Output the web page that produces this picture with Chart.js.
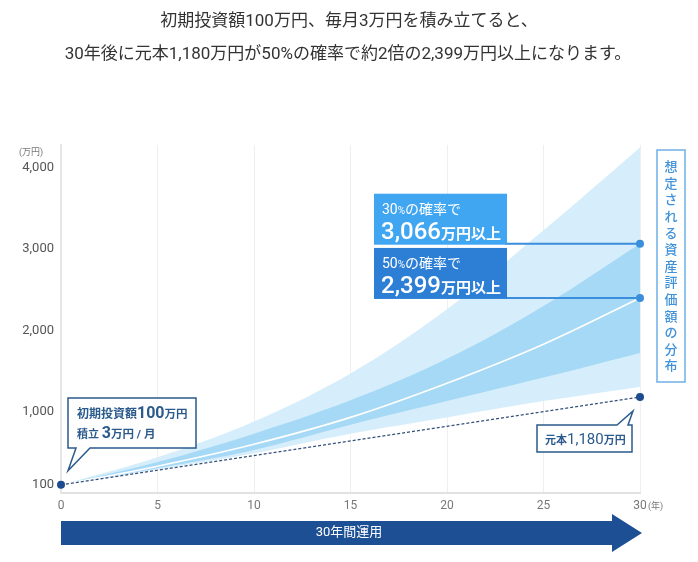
<!DOCTYPE html>
<html>
<head>
<meta charset="utf-8">
<script src="https://cdn.jsdelivr.net/npm/chart.js@4.4.1/dist/chart.umd.min.js"></script>
<style>
  html, body { margin: 0; padding: 0; background: #fff; }
  #wrap { width: 698px; height: 562px; position: relative; }
</style>
</head>
<body>
<div id="wrap"><canvas id="chart"></canvas></div>
<script>
// values (万円)
const years = [0, 5, 10, 15, 20, 25, 30];
const upper90 = [100, 440, 880, 1470, 2260, 3230, 4250];
const upper70 = [100, 380, 730, 1140, 1650, 2300, 3066];
const median = [100, 330, 600, 930, 1350, 1830, 2399];
const lower70 = [100, 305, 530, 840, 1130, 1420, 1723];
const lower90 = [100, 290, 490, 730, 930, 1130, 1305];
const principal = [100, 280, 460, 640, 820, 1000, 1180];
const yTicks = [100, 1000, 2000, 3000, 4000];

const titleLines = [
    '初期投資額100万円、毎月3万円を積み立てると、',
    '30年後に元本1,180万円が50%の確率で約2倍の2,399万円以上になります。'
];
const sideLabel = '想定される資産評価額の分布';

const FONT = "Roboto, 'Noto Sans CJK JP', sans-serif";
const NAVY = '#2b5a8c';

function pts(arr) {
    return arr.map((v, i) => ({ x: years[i], y: v }));
}

function endRadius(r) {
    return years.map((_, i) => (i === years.length - 1 ? r : 0));
}

// draw a row of text pieces with different sizes
function drawRuns(ctx, runs, x, baseline, color) {
    ctx.fillStyle = color;
    ctx.textAlign = 'left';
    ctx.textBaseline = 'alphabetic';
    let cx = x;
    runs.forEach(([t, size, weight]) => {
        ctx.font = `${weight} ${size}px ${FONT}`;
        ctx.fillText(t, cx, baseline);
        cx += ctx.measureText(t).width;
    });
    return cx;
}

const annotations = {
    id: 'annotations',
    afterDatasetsDraw(chart) {
        const { ctx, scales: { x, y } } = chart;
        const xEnd = x.getPixelForValue(30);

        // probability boxes + connector lines
        const boxes = [
            { value: 3066, color: '#41a6f1', pct: '30', amount: '3,066' },
            { value: 2399, color: '#2d7fd6', pct: '50', amount: '2,399' }
        ];
        boxes.forEach(b => {
            const ly = y.getPixelForValue(b.value);
            const bx = 374, bw = 133, bh = 50, by = ly - bh;
            ctx.save();
            ctx.strokeStyle = '#3a8edb';
            ctx.lineWidth = 2;
            ctx.beginPath();
            ctx.moveTo(bx + bw - 2, ly);
            ctx.lineTo(xEnd - 3, ly);
            ctx.stroke();
            ctx.fillStyle = b.color;
            ctx.fillRect(bx, by, bw, bh + 1);
            drawRuns(ctx, [[b.pct, 14, 400], ['%', 10, 400], ['の確率で', 14, 400]], bx + 8, by + 20, '#fff');
            drawRuns(ctx, [[b.amount, 24, 500], ['万円以上', 15, 700]], bx + 7, by + 45, '#fff');
            ctx.restore();
        });

        // initial investment callout
        ctx.save();
        const tipX = x.getPixelForValue(0) + 7, tipY = y.getPixelForValue(100) - 14;
        ctx.fillStyle = '#fff';
        ctx.strokeStyle = NAVY;
        ctx.lineWidth = 1.5;
        ctx.beginPath();
        ctx.moveTo(68, 398);
        ctx.lineTo(196, 398);
        ctx.lineTo(196, 448);
        ctx.lineTo(90, 448);
        ctx.lineTo(tipX, tipY);
        ctx.lineTo(76, 448);
        ctx.lineTo(68, 448);
        ctx.closePath();
        ctx.fill();
        ctx.stroke();
        drawRuns(ctx, [['初期投資額', 12, 700], ['100', 16, 700], ['万円', 11.5, 700]], 77, 418, NAVY);
        drawRuns(ctx, [['積立 ', 11, 700], ['3', 16, 700], ['万円 / 月', 11.5, 700]], 77, 438, NAVY);
        ctx.restore();

        // principal callout
        ctx.save();
        const pTipX = xEnd - 7, pTipY = y.getPixelForValue(1180) + 14;
        ctx.fillStyle = '#fff';
        ctx.strokeStyle = NAVY;
        ctx.lineWidth = 1.5;
        ctx.beginPath();
        ctx.moveTo(537, 425);
        ctx.lineTo(617, 425);
        ctx.lineTo(pTipX, pTipY);
        ctx.lineTo(628, 425);
        ctx.lineTo(632, 425);
        ctx.lineTo(632, 452);
        ctx.lineTo(537, 452);
        ctx.closePath();
        ctx.fill();
        ctx.stroke();
        drawRuns(ctx, [['元本', 11, 700], ['1,180', 15, 400], ['万円', 11, 700]], 545, 444, NAVY);
        ctx.restore();
    },
    afterDraw(chart) {
        const { ctx, scales: { x, y } } = chart;
        ctx.save();
        // heading
        ctx.fillStyle = '#333';
        ctx.textAlign = 'center';
        ctx.textBaseline = 'middle';
        ctx.font = `400 17px ${FONT}`;
        ctx.fillText(titleLines[0], 349, 22);
        ctx.fillText(titleLines[1], 348, 55);

        // unit labels
        ctx.fillStyle = '#777';
        ctx.font = `400 9px ${FONT}`;
        ctx.textAlign = 'left';
        ctx.fillText('(万円)', 19, 153);
        ctx.fillText('(年)', x.getPixelForValue(30) + 8, 507);

        // side label
        ctx.strokeStyle = '#6db0e6';
        ctx.lineWidth = 1.5;
        ctx.strokeRect(657, 150, 28, 232);
        ctx.fillStyle = '#3f91d9';
        ctx.textAlign = 'center';
        ctx.font = `500 13px ${FONT}`;
        [...sideLabel].forEach((ch, i) => {
            ctx.fillText(ch, 671, 168 + i * 16.6);
        });

        // period arrow
        const x0 = x.getPixelForValue(0), x1 = x.getPixelForValue(30) + 2;
        ctx.fillStyle = '#1d4f95';
        ctx.beginPath();
        ctx.moveTo(x0, 521);
        ctx.lineTo(x1 - 30, 521);
        ctx.lineTo(x1 - 30, 514);
        ctx.lineTo(x1, 533);
        ctx.lineTo(x1 - 30, 552);
        ctx.lineTo(x1 - 30, 545);
        ctx.lineTo(x0, 545);
        ctx.closePath();
        ctx.fill();
        ctx.fillStyle = '#fff';
        ctx.font = `400 13px ${FONT}`;
        ctx.fillText('30年間運用', 349, 533);
        ctx.restore();
    }
};

new Chart(document.getElementById('chart'), {
    type: 'line',
    data: {
        datasets: [
            {
                data: pts(upper90), fill: 4, backgroundColor: '#d6eefb',
                borderWidth: 0, pointRadius: 0, order: 6, tension: 0.35
            },
            {
                data: pts(upper70), fill: 3, backgroundColor: '#a6d9f6',
                borderWidth: 0, pointRadius: endRadius(4), pointBackgroundColor: '#3a8edb',
                pointBorderWidth: 0, order: 5, tension: 0.35, clip: false
            },
            {
                data: pts(median), fill: false, borderColor: '#ffffff', borderWidth: 1.6,
                pointRadius: endRadius(4), pointBackgroundColor: '#3a8edb',
                pointBorderWidth: 0, order: 2, tension: 0.35, clip: false
            },
            {
                data: pts(lower70), fill: false, borderWidth: 0, pointRadius: 0,
                order: 4, tension: 0.35
            },
            {
                data: pts(lower90), fill: false, borderWidth: 0, pointRadius: 0,
                order: 4, tension: 0.35
            },
            {
                data: pts(principal), fill: false, borderColor: '#34507a', borderWidth: 1.2,
                borderDash: [3, 2],
                pointRadius: years.map((_, i) => (i === 0 || i === years.length - 1 ? 4 : 0)),
                pointBackgroundColor: '#1d4b8f', pointBorderWidth: 0, order: 1, clip: false
            }
        ]
    },
    options: {
        responsive: true,
        maintainAspectRatio: false,
        animation: false,
        layout: { padding: { top: 145, right: 58, bottom: 44, left: 0 } },
        plugins: {
            legend: { display: false },
            tooltip: { enabled: false },
            filler: { drawTime: 'beforeDatasetDraw' }
        },
        scales: {
            x: {
                type: 'linear',
                min: 0,
                max: 30,
                afterFit: s => { s.height = 25; },
                ticks: {
                    stepSize: 5,
                    padding: 6,
                    color: '#777',
                    font: { family: FONT, size: 12 }
                },
                grid: { color: '#efefef', lineWidth: 1, drawTicks: false },
                border: { display: true, color: '#e2e2e2', width: 2 }
            },
            y: {
                min: 0,
                max: 4280,
                afterFit: s => { s.width = 61; },
                afterBuildTicks: s => { s.ticks = yTicks.map(v => ({ value: v })); },
                ticks: {
                    padding: 7,
                    color: '#555',
                    font: { family: FONT, size: 13 },
                    callback: v => v.toLocaleString('en-US')
                },
                grid: { display: false, drawTicks: false },
                border: { display: true, color: '#e6e6e6', width: 2 }
            }
        }
    },
    plugins: [annotations]
});
</script>
</body>
</html>
